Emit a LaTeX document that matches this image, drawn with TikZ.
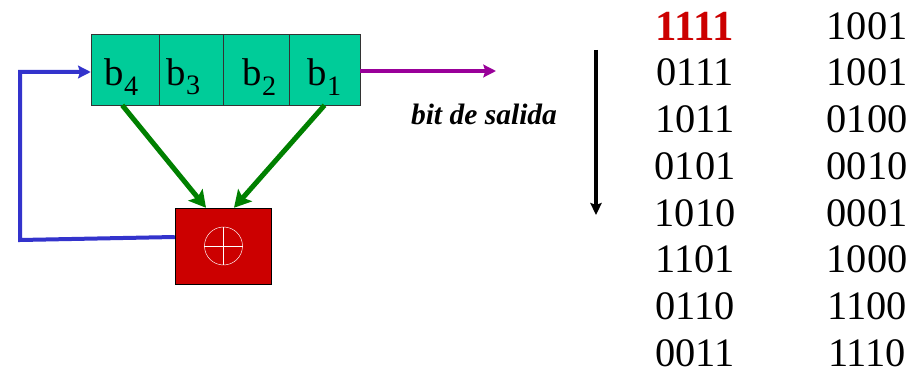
\documentclass[tikz,border=0pt]{standalone}
\usepackage{fontspec}
\setmainfont{Liberation Serif}
\usepackage{xcolor}
\usepackage{tikz}
\usetikzlibrary{arrows.meta, positioning}
\definecolor{cellgreen}{RGB}{0, 204, 153}
\definecolor{xorred}{RGB}{204, 0, 0}
\definecolor{tapgreen}{RGB}{0, 128, 0}
\definecolor{loopblue}{RGB}{51, 51, 204}
\definecolor{outpurple}{RGB}{153, 0, 153}
\newcommand{\bitlabel}[1]{b\raisebox{-0.24em}{\fontsize{24}{24}\selectfont #1}}

\begin{document}
\begin{tikzpicture}[
    x=0.03cm, y=-0.03cm,
    cell/.style={draw=black!80, rectangle, fill=cellgreen, minimum height=2.13cm, inner sep=0pt},
    celltext/.style={inner sep=0pt, font=\fontsize{33}{36}\selectfont},
    xorblock/.style={draw, rectangle, fill=xorred, minimum width=2.88cm, minimum height=2.28cm, inner sep=0pt},
    xorsign/.style={draw=white, circle, minimum size=1.14cm, inner sep=0pt},
    word/.style={inner sep=0pt, font=\fontsize{34.5}{38}\selectfont},
    taparrow/.style={-{Stealth[length=5mm, width=5.5mm, inset=1mm]}, line width=1.5mm, tapgreen},
    looparrow/.style={-{Stealth[length=3.8mm, width=3.8mm, inset=0.6mm]}, line width=1.2mm, loopblue},
    outarrow/.style={-{Stealth[length=3.8mm, width=3.8mm, inset=0.6mm]}, line width=1.2mm, outpurple},
    timearrow/.style={-{Stealth[length=3.6mm, width=3.4mm, inset=0.6mm]}, line width=1.05mm, black}
]
\useasboundingbox (0, 0) rectangle (915, 370);

% Register cells
\node[cell, minimum width=2.055cm] (cellfour) at (125.25, 69.5) {};
\node[cell, minimum width=1.905cm] (cellthree) at (191.25, 69.5) {};
\node[cell, minimum width=1.98cm] (celltwo) at (256, 69.5) {};
\node[cell, minimum width=2.13cm] (cellone) at (324.5, 69.5) {};

\node[celltext] (bfour) at (121.5, 77) {\bitlabel{4}};
\node[celltext] (bthree) at (183.5, 77) {\bitlabel{3}};
\node[celltext] (btwo) at (259.5, 77) {\bitlabel{2}};
\node[celltext] (bone) at (324.5, 77) {\bitlabel{1}};

% XOR block
\node[xorblock] (xorbox) at (223, 246) {};
\node[xorsign] (xorring) at (223.5, 246) {};
\draw[white] (xorring.north) -- (xorring.south);
\draw[white] (xorring.west) -- (xorring.east);

% Taps
\draw[taparrow] ([xshift=-0.09cm]cellfour.south) -- ([xshift=-0.51cm]xorbox.north);
\draw[taparrow] (cellone.south) -- ([xshift=0.33cm]xorbox.north);

% Feedback
\coordinate (loopbottom) at (20, 240);
\coordinate (looptop) at (20, 72);
\draw[looparrow] ([yshift=0.27cm]xorbox.west) -- (loopbottom) -- (looptop) -- ([yshift=-0.075cm]cellfour.west);

% Output
\coordinate (outend) at (496, 71);
\draw[outarrow] ([yshift=-0.045cm]cellone.east) -- (outend);
\node[inner sep=0pt, font=\fontsize{25.2}{30}\selectfont\bfseries\itshape] (outlabel) at (484, 114) {bit de salida};

% Time arrow
\coordinate (timetop) at (596, 50);
\coordinate (timeend) at (596, 215);
\draw[timearrow] (timetop) -- (timeend);

% State sequence, first column
\node[word, text=xorred, font=\fontsize{36.5}{38}\selectfont\bfseries] (aone) at (695, 26) {1111};
\node[word] (atwo) at (695, 72) {0111};
\node[word] (athree) at (695, 119) {1011};
\node[word] (afour) at (695, 166) {0101};
\node[word] (afive) at (695, 213) {1010};
\node[word] (asix) at (695, 259) {1101};
\node[word] (aseven) at (695, 306) {0110};
\node[word] (aeight) at (695, 353) {0011};

% State sequence, second column
\node[word] (bbone) at (867, 26) {1001};
\node[word] (bbtwo) at (867, 72) {1001};
\node[word] (bbthree) at (867, 119) {0100};
\node[word] (bbfour) at (867, 166) {0010};
\node[word] (bbfive) at (867, 213) {0001};
\node[word] (bbsix) at (867, 259) {1000};
\node[word] (bbseven) at (867, 306) {1100};
\node[word] (bbeight) at (867, 353) {1110};

\end{tikzpicture}
\end{document}
